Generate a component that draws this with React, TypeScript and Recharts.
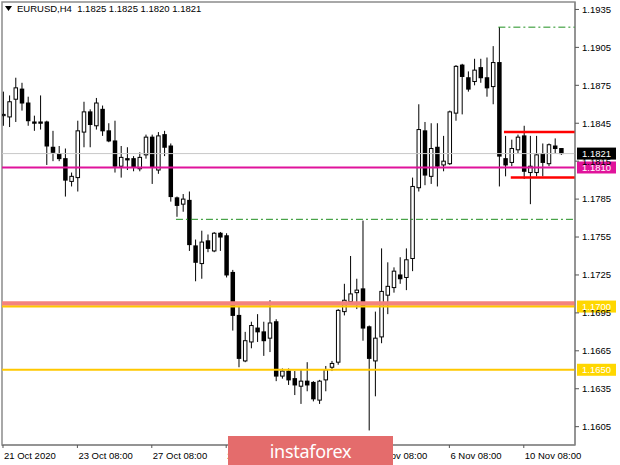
import React from 'react';
import { ComposedChart, Bar, XAxis, YAxis, ReferenceLine, ReferenceArea } from 'recharts';

const OPEN = [1.1851, 1.1850, 1.1864, 1.1872, 1.1861, 1.1846, 1.1846, 1.1846, 1.1826, 1.1821, 1.1817, 1.1799, 1.1802, 1.1838, 1.1854, 1.1843, 1.1856, 1.1839, 1.1831, 1.1811, 1.1817, 1.1817, 1.1809, 1.1820, 1.1834, 1.1808, 1.1836, 1.1827, 1.1786, 1.1781, 1.1784, 1.1748, 1.1734, 1.1752, 1.1744, 1.1758, 1.1756, 1.1727, 1.1693, 1.1657, 1.1672, 1.1683, 1.1680, 1.1675, 1.1688, 1.1645, 1.1649, 1.1643, 1.1637, 1.1641, 1.1640, 1.1626, 1.1642, 1.1652, 1.1656, 1.1696, 1.1704, 1.1711, 1.1714, 1.1684, 1.1657, 1.1676, 1.1709, 1.1715, 1.1725, 1.1723, 1.1738, 1.1794, 1.1839, 1.1803, 1.1826, 1.1812, 1.1813, 1.1853, 1.1891, 1.1881, 1.1878, 1.1889, 1.1881, 1.1874, 1.1893, 1.1817, 1.1814, 1.1824, 1.1835, 1.1806, 1.1806, 1.1821, 1.1813, 1.1827, 1.1825];
const HIGH = [1.1870, 1.1867, 1.1881, 1.1877, 1.1866, 1.1851, 1.1867, 1.1847, 1.1839, 1.1827, 1.1825, 1.1806, 1.1847, 1.1862, 1.1856, 1.1865, 1.1859, 1.1845, 1.1847, 1.1827, 1.1826, 1.1819, 1.1822, 1.1836, 1.1836, 1.1838, 1.1839, 1.1829, 1.1787, 1.1789, 1.1791, 1.1753, 1.1760, 1.1757, 1.1759, 1.1759, 1.1758, 1.1729, 1.1700, 1.1680, 1.1688, 1.1694, 1.1688, 1.1705, 1.1690, 1.1651, 1.1651, 1.1649, 1.1650, 1.1656, 1.1641, 1.1642, 1.1653, 1.1657, 1.1698, 1.1718, 1.1740, 1.1722, 1.1768, 1.1685, 1.1696, 1.1746, 1.1735, 1.1731, 1.1739, 1.1746, 1.1802, 1.1860, 1.1846, 1.1845, 1.1845, 1.1835, 1.1855, 1.1891, 1.1892, 1.1886, 1.1896, 1.1896, 1.1897, 1.1906, 1.1921, 1.1835, 1.1832, 1.1836, 1.1843, 1.1835, 1.1835, 1.1829, 1.1829, 1.1833, 1.1825];
const LOW = [1.1843, 1.1842, 1.1846, 1.1855, 1.1843, 1.1839, 1.1840, 1.1812, 1.1815, 1.1815, 1.1787, 1.1795, 1.1791, 1.1826, 1.1826, 1.1840, 1.1835, 1.1830, 1.1806, 1.1802, 1.1808, 1.1807, 1.1807, 1.1817, 1.1797, 1.1805, 1.1819, 1.1783, 1.1771, 1.1775, 1.1744, 1.1720, 1.1722, 1.1743, 1.1743, 1.1744, 1.1723, 1.1681, 1.1652, 1.1656, 1.1667, 1.1672, 1.1661, 1.1664, 1.1641, 1.1643, 1.1638, 1.1630, 1.1623, 1.1633, 1.1625, 1.1623, 1.1633, 1.1649, 1.1654, 1.1693, 1.1703, 1.1698, 1.1673, 1.1602, 1.1629, 1.1671, 1.1694, 1.1711, 1.1718, 1.1713, 1.1728, 1.1791, 1.1796, 1.1797, 1.1795, 1.1807, 1.1812, 1.1847, 1.1852, 1.1870, 1.1875, 1.1877, 1.1866, 1.1860, 1.1795, 1.1803, 1.1811, 1.1821, 1.1801, 1.1781, 1.1803, 1.1803, 1.1811, 1.1821, 1.1820];
const CLOSE = [1.1852, 1.1862, 1.1873, 1.1861, 1.1847, 1.1845, 1.1845, 1.1827, 1.1822, 1.1817, 1.1800, 1.1803, 1.1839, 1.1854, 1.1844, 1.1861, 1.1839, 1.1831, 1.1811, 1.1818, 1.1816, 1.1810, 1.1818, 1.1834, 1.1810, 1.1835, 1.1826, 1.1787, 1.1780, 1.1785, 1.1749, 1.1735, 1.1751, 1.1746, 1.1758, 1.1755, 1.1725, 1.1693, 1.1659, 1.1673, 1.1685, 1.1680, 1.1673, 1.1687, 1.1645, 1.1649, 1.1642, 1.1638, 1.1641, 1.1638, 1.1627, 1.1641, 1.1650, 1.1655, 1.1697, 1.1705, 1.1710, 1.1713, 1.1683, 1.1659, 1.1675, 1.1712, 1.1716, 1.1728, 1.1722, 1.1737, 1.1795, 1.1840, 1.1804, 1.1825, 1.1811, 1.1815, 1.1854, 1.1890, 1.1882, 1.1872, 1.1887, 1.1881, 1.1873, 1.1893, 1.1819, 1.1812, 1.1825, 1.1834, 1.1807, 1.1811, 1.1820, 1.1814, 1.1828, 1.1825, 1.1821];

const SYMBOL = 'EURUSD,H4';
const X_TICKS = [0, 12, 24, 36, 48, 60, 72, 84];
const X_TICK_LABELS = ['21 Oct 2020', '23 Oct 08:00', '27 Oct 08:00', '29 Oct 08:00', '2 Nov 08:00', '4 Nov 08:00', '6 Nov 08:00', '10 Nov 08:00'];
const Y_TICKS = [1.1935, 1.1905, 1.1875, 1.1845, 1.1815, 1.1785, 1.1755, 1.1725, 1.1695, 1.1665, 1.1635, 1.1605];
const X_DOMAIN = [-0.16, 92.26];
const Y_DOMAIN = [1.15905, 1.19409];

const BID = 1.1821;
const MAGENTA_LEVEL = 1.1810;
const SALMON_LEVEL = 1.17024;
const GOLD_LEVEL_1 = 1.1700;
const GOLD_LEVEL_2 = 1.1650;
const RED_SEGMENTS = [
  { from: 80.8, price: 1.1838 },
  { from: 81.9, price: 1.1802 },
];
const GREEN_SEGMENTS = [
  { from: 79.9, price: 1.1921 },
  { from: 27.9, price: 1.1769 },
];

const FONT = '"Liberation Sans", Arial, sans-serif';

const candles = OPEN.map((o, i) => ({ i, o, h: HIGH[i], l: LOW[i], c: CLOSE[i] }));
const last = candles[candles.length - 1];

const Candle = (props: any) => {
  const { x, y, width, height, payload } = props;
  if (payload == null) return null;
  const top = Math.min(y, y + height);
  const h = Math.abs(height);
  const range = payload.h - payload.l;
  const k = range > 0 ? h / range : 0;
  const cx = x + width / 2;
  const yO = top + (payload.h - payload.o) * k;
  const yC = top + (payload.h - payload.c) * k;
  const bull = payload.c >= payload.o;
  const bt = Math.min(yO, yC);
  const bh = Math.max(Math.abs(yO - yC), 1);
  return (
    <g>
      <line x1={cx} x2={cx} y1={top} y2={top + h} stroke="#000" strokeWidth={1} />
      {bull ? (
        <rect x={cx - 1.75} y={bt} width={3.5} height={bh} fill="#fff" stroke="#000" strokeWidth={1} />
      ) : (
        <rect x={cx - 2.25} y={bt - 0.5} width={4.5} height={bh + 1} fill="#000" />
      )}
    </g>
  );
};

const priceLabel = (text: string, bg: string, fg: string) => (props: any) => {
  const vb = props.viewBox || {};
  const x = (vb.x || 0) + (vb.width || 0);
  const y = vb.y || 0;
  return (
    <g>
      <rect x={x + 2} y={y - 6} width={39} height={12} fill={bg} />
      <text x={x + 7} y={y} dy="0.355em" fontSize={9.5} fontFamily={FONT} fill={fg}>
        {text}
      </text>
    </g>
  );
};

const XTick = (props: any) => {
  const { x, y, payload } = props;
  const idx = X_TICKS.indexOf(payload.value);
  return (
    <text x={x + 1} y={y} dy={9} textAnchor="start" fontSize={9.5} fontFamily={FONT} fill="#000">
      {X_TICK_LABELS[idx]}
    </text>
  );
};

export default function App() {
  return (
    <div style={{ position: 'absolute', left: 0, top: 0, width: 620, height: 465, background: '#fff', overflow: 'hidden' }}>
      <ComposedChart width={620} height={465} data={candles} margin={{ top: 2, right: 0, bottom: 0, left: 2 }}>
        <XAxis
          type="number"
          dataKey="i"
          domain={X_DOMAIN}
          allowDataOverflow
          ticks={X_TICKS}
          interval={0}
          tick={<XTick />}
          tickSize={3}
          tickMargin={2}
          height={20}
          axisLine={{ stroke: '#808080' }}
          tickLine={{ stroke: '#555' }}
        />
        <YAxis
          orientation="right"
          type="number"
          domain={Y_DOMAIN}
          allowDataOverflow
          ticks={Y_TICKS}
          interval={0}
          width={45}
          tickSize={4}
          tickMargin={3}
          tickFormatter={(v: number) => v.toFixed(4)}
          tick={{ fontSize: 9.5, fontFamily: FONT, fill: '#000' }}
          axisLine={{ stroke: '#808080' }}
          tickLine={{ stroke: '#555' }}
        />
        <ReferenceArea
          x1={X_DOMAIN[0]}
          x2={X_DOMAIN[1]}
          y1={Y_DOMAIN[0]}
          y2={Y_DOMAIN[1]}
          fill="none"
          fillOpacity={0}
          stroke="#8c8c8c"
          strokeWidth={1.5}
          ifOverflow="visible"
        />
        <ReferenceLine y={BID} stroke="#c8c8c8" strokeWidth={1} />
        <Bar dataKey={(d: any) => [d.l, d.h]} barSize={5} shape={Candle} isAnimationActive={false} />
        <ReferenceLine y={SALMON_LEVEL} stroke="#f4837d" strokeWidth={4.5} />
        <ReferenceLine y={GOLD_LEVEL_1} stroke="#ffc800" strokeWidth={2} label={priceLabel(GOLD_LEVEL_1.toFixed(4), '#ffd700', '#fff')} />
        <ReferenceLine y={GOLD_LEVEL_2} stroke="#ffc800" strokeWidth={2} label={priceLabel(GOLD_LEVEL_2.toFixed(4), '#ffd700', '#fff')} />
        <ReferenceLine y={MAGENTA_LEVEL} stroke="#e0139b" strokeWidth={2} label={priceLabel(MAGENTA_LEVEL.toFixed(4), '#e0139b', '#fff')} />
        {RED_SEGMENTS.map((s, k) => (
          <ReferenceLine
            key={'r' + k}
            segment={[{ x: s.from, y: s.price }, { x: X_DOMAIN[1], y: s.price }]}
            stroke="#ff0000"
            strokeWidth={2.5}
          />
        ))}
        {GREEN_SEGMENTS.map((s, k) => (
          <ReferenceLine
            key={'g' + k}
            segment={[{ x: s.from, y: s.price }, { x: X_DOMAIN[1], y: s.price }]}
            stroke="#1f8f1f"
            strokeWidth={1}
            strokeDasharray="7 3 2 3"
          />
        ))}
        <ReferenceLine y={BID} stroke="none" label={priceLabel(BID.toFixed(4), '#000', '#fff')} />
      </ComposedChart>
      <div style={{ position: 'absolute', left: 5, top: 3, fontFamily: FONT, fontSize: 9.5, color: '#000', whiteSpace: 'pre', display: 'flex', alignItems: 'center' }}>
        <svg width={7} height={6} style={{ marginRight: 5 }}>
          <polygon points="0,0 7,0 3.5,5" fill="#000" />
        </svg>
        <span>{`${SYMBOL}  ${last.o.toFixed(4)} ${last.h.toFixed(4)} ${last.l.toFixed(4)} ${last.c.toFixed(4)}`}</span>
      </div>
      <div style={{ position: 'absolute', left: 228, top: 436, width: 165, height: 29, background: '#e46c6c', display: 'flex', alignItems: 'center', justifyContent: 'center' }}>
        <span style={{ fontFamily: '"Noto Sans", sans-serif', fontSize: 18, color: '#fff', letterSpacing: -0.3 }}>instaforex</span>
      </div>
    </div>
  );
}
